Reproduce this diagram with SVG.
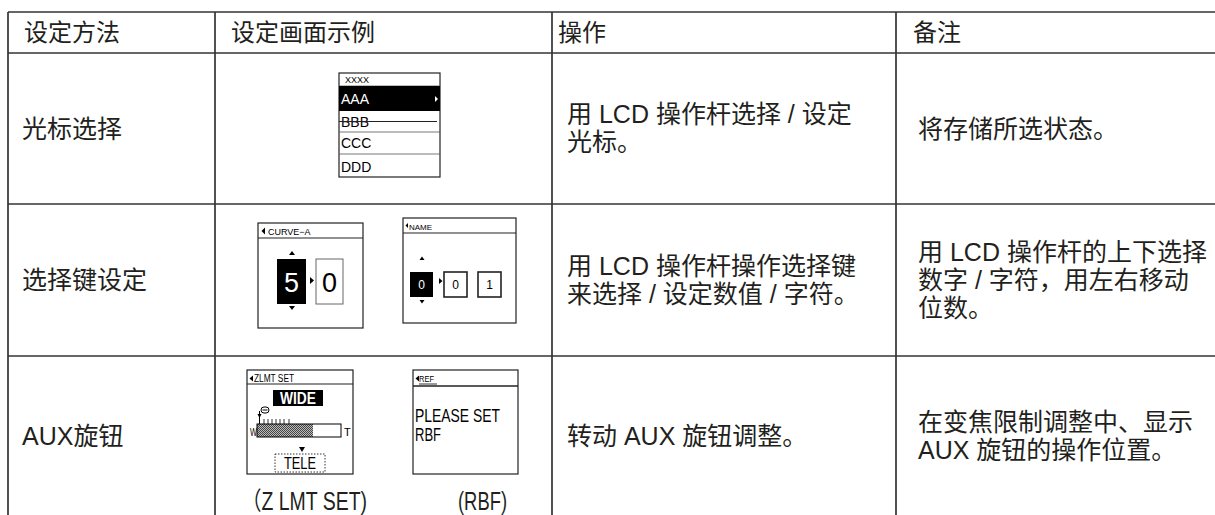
<svg xmlns="http://www.w3.org/2000/svg" width="1215" height="515" viewBox="0 0 1215 515">
<style>
.t{font-family:"Liberation Sans","Noto Sans CJK SC",sans-serif;font-size:25px;fill:#231f20}
.h{font-size:24px}
.grid line{stroke:#333;stroke-width:1.7}
.scr{fill:#fff;stroke:#222;stroke-width:1.2}
.s{font-family:"Liberation Sans",sans-serif;fill:#000}
.w{fill:#fff}
.thin{stroke:#555;stroke-width:0.8}
.tri{fill:#000}
</style>
<defs>
<pattern id="chk" width="2" height="2" patternUnits="userSpaceOnUse"><rect width="2" height="2" fill="#bbb"/><rect width="1" height="1" fill="#444"/><rect x="1" y="1" width="1" height="1" fill="#444"/></pattern>
</defs>
<rect width="1215" height="515" fill="#fff"/>
<g id="grid" class="grid">
<line x1="8" y1="12" x2="1215" y2="12"/>
<line x1="8" y1="53" x2="1215" y2="53"/>
<line x1="8" y1="204" x2="1215" y2="204"/>
<line x1="8" y1="356" x2="1215" y2="356"/>
<line x1="8" y1="12" x2="8" y2="515"/>
<line x1="215" y1="12" x2="215" y2="515"/>
<line x1="552" y1="12" x2="552" y2="515"/>
<line x1="896" y1="12" x2="896" y2="515"/>
</g>
<g id="header">
<text class="t h" x="24" y="41">设定方法</text>
<text class="t h" x="231" y="41">设定画面示例</text>
<text class="t h" x="558" y="41">操作</text>
<text class="t h" x="913" y="41">备注</text>
</g>
<g id="row1">
<text class="t" x="22" y="138">光标选择</text>
<text class="t" x="567" y="123">用 LCD 操作杆选择 / 设定</text>
<text class="t" x="567" y="151">光标。</text>
<text class="t" x="918" y="138">将存储所选状态。</text>
</g>
<g id="screen-cursor">
<rect class="scr" x="339" y="73" width="101" height="104"/>
<line class="thin" x1="339" y1="86" x2="440" y2="86"/>
<text class="s" x="345" y="83" font-size="9">XXXX</text>
<rect x="339" y="86" width="101" height="25" fill="#000"/>
<text class="s w" x="341" y="104" font-size="14">AAA</text>
<polygon class="w" points="435,96 438,99 435,102"/>
<text class="s" x="341" y="127" font-size="14">BBB</text>
<line x1="339" y1="121.5" x2="437" y2="121.5" stroke="#222" stroke-width="1"/>
<line class="thin" x1="339" y1="132" x2="440" y2="132"/>
<text class="s" x="341" y="148" font-size="14">CCC</text>
<line class="thin" x1="339" y1="154" x2="440" y2="154"/>
<text class="s" x="341" y="172" font-size="14">DDD</text>
</g>
<g id="row2">
<text class="t" x="22" y="289">选择键设定</text>
<text class="t" x="567" y="275">用 LCD 操作杆操作选择键</text>
<text class="t" x="567" y="303">来选择 / 设定数值 / 字符。</text>
<text class="t" x="918" y="261">用 LCD 操作杆的上下选择</text>
<text class="t" x="918" y="289">数字 / 字符，用左右移动</text>
<text class="t" x="918" y="317">位数。</text>
</g>
<g id="screen-curve">
<rect class="scr" x="258" y="223" width="105" height="105"/>
<line x1="258" y1="238" x2="363" y2="238" stroke="#222" stroke-width="1.2"/>
<polygon class="tri" points="265,227.5 261.5,231 265,234.5"/>
<text class="s" x="268" y="235" font-size="9">CURVE−A</text>
<polygon class="tri" points="289,255 292,251 295,255"/>
<rect x="277" y="259" width="29" height="45" fill="#000"/>
<text class="s w" x="291.5" y="292" font-size="27" text-anchor="middle">5</text>
<polygon class="tri" points="289,306 292,310 295,306"/>
<polygon class="tri" points="310,277 314,280.5 310,284"/>
<rect x="316" y="259" width="27" height="45" fill="#fff" stroke="#666" stroke-width="1"/>
<text class="s" x="329.5" y="292" font-size="27" text-anchor="middle">0</text>
</g>
<g id="screen-name">
<rect class="scr" x="403" y="218" width="113" height="105"/>
<line x1="403" y1="233" x2="516" y2="233" stroke="#222" stroke-width="1.2"/>
<polygon class="tri" points="408,223 405.5,225.5 408,228"/>
<text class="s" x="409" y="229.5" font-size="8">NAME</text>
<polygon class="tri" points="419.5,260 422,256.5 424.5,260"/>
<rect x="410" y="272" width="23" height="25" fill="#000"/>
<text class="s w" x="421.5" y="289" font-size="12" text-anchor="middle">0</text>
<polygon class="tri" points="419.5,300 422,303.5 424.5,300"/>
<polygon class="tri" points="439,278 442.5,281 439,284"/>
<rect x="444" y="272" width="23" height="25" fill="#fff" stroke="#222" stroke-width="1.6"/>
<text class="s" x="455.5" y="289" font-size="12" text-anchor="middle">0</text>
<rect x="478" y="272" width="23" height="25" fill="#fff" stroke="#222" stroke-width="1.6"/>
<text class="s" x="489.5" y="289" font-size="12" text-anchor="middle">1</text>
</g>
<g id="row3">
<text class="t" x="22" y="445">AUX旋钮</text>
<text class="t" x="567" y="445">转动 AUX 旋钮调整。</text>
<text class="t" x="918" y="431">在变焦限制调整中、显示</text>
<text class="t" x="918" y="459">AUX 旋钮的操作位置。</text>
</g>
<g id="screen-zlmt">
<rect class="scr" x="247" y="370" width="106" height="104"/>
<line x1="247" y1="384" x2="353" y2="384" stroke="#222" stroke-width="1.2"/>
<polygon class="tri" points="253,375.5 249.5,378.5 253,381.5"/>
<text class="s" x="254" y="382" font-size="10" textLength="40" lengthAdjust="spacingAndGlyphs">ZLMT SET</text>
<rect x="273" y="390" width="50" height="16" fill="#000"/>
<text class="s w" x="298" y="404" font-size="16" font-weight="bold" text-anchor="middle" textLength="36" lengthAdjust="spacingAndGlyphs">WIDE</text>
<rect x="261" y="407" width="8" height="6" rx="3" fill="#fff" stroke="#000" stroke-width="1"/>
<line x1="262.5" y1="410" x2="267.5" y2="410" stroke="#000" stroke-width="1"/>
<line x1="259.5" y1="411" x2="259.5" y2="424" stroke="#000" stroke-width="1"/>
<polygon class="tri" points="257.5,414 261.5,414 259.5,418"/>
<rect x="257" y="424" width="56" height="13" fill="url(#chk)"/>
<rect x="257" y="424" width="84" height="13" fill="none" stroke="#000" stroke-width="1"/>
<g stroke="#000" stroke-width="0.8">
<line x1="264" y1="419" x2="264" y2="424"/><line x1="268" y1="419" x2="268" y2="424"/><line x1="272" y1="419" x2="272" y2="424"/><line x1="276" y1="419" x2="276" y2="424"/><line x1="280" y1="419" x2="280" y2="424"/><line x1="284" y1="419" x2="284" y2="424"/><line x1="289" y1="419" x2="289" y2="424"/>
</g>
<text class="s" x="250" y="436" font-size="10" textLength="7" lengthAdjust="spacingAndGlyphs">W</text>
<text class="s" x="344" y="436" font-size="11">T</text>
<polygon class="tri" points="299,447 305,447 302,452"/>
<rect x="275" y="454" width="50" height="18" fill="#fff" stroke="#000" stroke-width="0.8" stroke-dasharray="1.5,1.5"/>
<text class="s" x="300" y="469" font-size="16" text-anchor="middle" textLength="32" lengthAdjust="spacingAndGlyphs">TELE</text>
<text class="t" x="242" y="510" font-size="21" textLength="125" lengthAdjust="spacingAndGlyphs">（Z LMT SET)</text>
</g>
<g id="screen-rbf">
<rect class="scr" x="413" y="370" width="105" height="104"/>
<line x1="413" y1="386" x2="518" y2="386" stroke="#222" stroke-width="1.6"/>
<polygon class="tri" points="419,375.5 415.5,378.5 419,381.5"/>
<text class="s" x="419" y="382" font-size="9.5" textLength="15" lengthAdjust="spacingAndGlyphs">REF</text>
<line x1="419" y1="384" x2="437" y2="384" stroke="#000" stroke-width="0.8"/>
<text class="s" x="415" y="422" font-size="19" textLength="85" lengthAdjust="spacingAndGlyphs">PLEASE SET</text>
<text class="s" x="415" y="441" font-size="19" textLength="26" lengthAdjust="spacingAndGlyphs">RBF</text>
<text class="t" x="458" y="510" font-size="21" textLength="49" lengthAdjust="spacingAndGlyphs">(RBF)</text>
</g>
</svg>
